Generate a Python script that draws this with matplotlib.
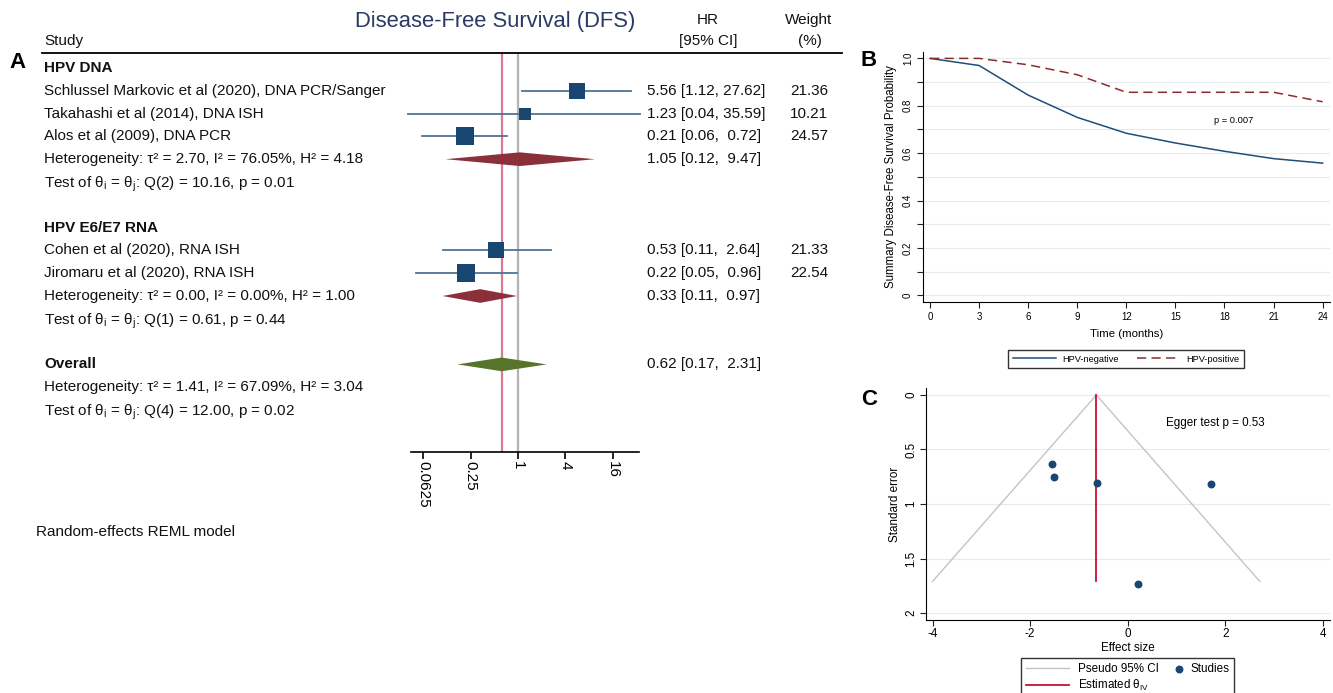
import numpy as np
import matplotlib.pyplot as plt
from matplotlib.lines import Line2D
from matplotlib.patches import Polygon
from matplotlib.transforms import blended_transform_factory
from matplotlib.legend_handler import HandlerPathCollection

plt.rcParams['font.family'] = ['Liberation Sans', 'DejaVu Sans']
plt.rcParams['mathtext.fontset'] = 'custom'
plt.rcParams['mathtext.rm'] = 'Liberation Sans'
plt.rcParams['mathtext.it'] = 'Liberation Sans:italic'
plt.rcParams['mathtext.bf'] = 'Liberation Sans:bold'
plt.rcParams['axes.unicode_minus'] = False

# ---- panel A data (forest plot) ----
group_names = ["HPV DNA", "HPV E6/E7 RNA"]
study_names = ["Schlussel Markovic et al (2020), DNA PCR/Sanger",
               "Takahashi et al (2014), DNA ISH",
               "Alos et al (2009), DNA PCR",
               "Cohen et al (2020), RNA ISH",
               "Jiromaru et al (2020), RNA ISH"]
study_group = [0, 0, 0, 1, 1]
study_hr = [5.56, 1.23, 0.21, 0.53, 0.22]
study_lo = [1.12, 0.04, 0.06, 0.11, 0.05]
study_hi = [27.62, 35.59, 0.72, 2.64, 0.96]
study_wt = [21.36, 10.21, 24.57, 21.33, 22.54]
group_hr = [1.05, 0.33]
group_lo = [0.12, 0.11]
group_hi = [9.47, 0.97]
group_het = ["Heterogeneity: τ² = 2.70, I² = 76.05%, H² = 4.18",
             "Heterogeneity: τ² = 0.00, I² = 0.00%, H² = 1.00"]
group_test = ["Q(2) = 10.16, p = 0.01", "Q(1) = 0.61, p = 0.44"]
overall_hr, overall_lo, overall_hi = 0.62, 0.17, 2.31
overall_het = "Heterogeneity: τ² = 1.41, I² = 67.09%, H² = 3.04"
overall_test = "Q(4) = 12.00, p = 0.02"
hr_ticks = [0.0625, 0.25, 1, 4, 16]
hr_ticklabels = ["0.0625", "0.25", "1", "4", "16"]

# ---- panel B data (survival curves) ----
months = [0, 3, 6, 9, 12, 15, 18, 21, 24]
surv_neg = [1.0, 0.970, 0.845, 0.751, 0.684, 0.643, 0.608, 0.577, 0.558]
surv_pos = [1.0, 1.0, 0.973, 0.931, 0.857, 0.857, 0.857, 0.857, 0.817]

# ---- panel C data (funnel plot) ----
effect_size = [1.72, 0.21, -1.56, -0.63, -1.51]
std_err = [0.82, 1.73, 0.63, 0.81, 0.75]
theta_iv = -0.64
funnel_se = 1.71
funnel_lo, funnel_hi = -4.0, 2.71

W, H = 1333, 693


def fx(px):
    return px / W


def fy(py):
    return 1 - py / H


class RightDot(HandlerPathCollection):
    # put the legend dot at the right end of the handle box
    def get_xdata(self, legend, xdescent, ydescent, width, height, fontsize):
        x = [-xdescent + width - 2]
        return x, x


fig = plt.figure(figsize=(13.33, 6.93), dpi=100)

navy = '#1a4672'
ci_col = '#4f7396'
txt_col = '#111111'
fs = 11

# ================= Panel A =================
row_h = 22.8
axA = fig.add_axes([fx(411), fy(452.3), fx(639.3) - fx(411), fy(53) - fy(452.3)])
axA.set_xscale('log', base=2)
axA.set_xlim(2 ** -4.52, 2 ** 5.12)
axA.set_ylim((452.3 - 68) / row_h, (53 - 68) / row_h)
tr = blended_transform_factory(fig.transFigure, axA.transData)

x_lab = fx(44)
x_val = fx(647.3)
x_wt = fx(828)


def label(s, r, bold=False):
    fig.text(x_lab, r, s, transform=tr, fontsize=fs, va='center', ha='left',
             color=txt_col, fontweight='bold' if bold else 'normal')


def value(hr, lo, hi, r):
    fig.text(x_val, r, "{:.2f} [{:.2f}, {:5.2f}]".format(hr, lo, hi),
             transform=tr, fontsize=fs, va='center', ha='left', color=txt_col)


def diamond(hr, lo, hi, r, col):
    axA.add_patch(Polygon([(lo, r), (hr, r - 0.3), (hi, r), (hr, r + 0.3)],
                          closed=True, facecolor=col, edgecolor='none', zorder=4))


axA.axvline(overall_hr, color='#dc7891', lw=1.6, zorder=1)
axA.axvline(1, color='#b3b3b3', lw=1.6, zorder=1)

row = 0
for g in range(len(group_names)):
    label(group_names[g], row, bold=True)
    row += 1
    for i in range(len(study_names)):
        if study_group[i] != g:
            continue
        label(study_names[i], row)
        axA.plot([study_lo[i], study_hi[i]], [row, row], color=ci_col, lw=1.3,
                 clip_on=False, zorder=2)
        axA.plot(study_hr[i], row, 's', color=navy, ms=2.6 * np.sqrt(study_wt[i]),
                 mew=0, zorder=3)
        value(study_hr[i], study_lo[i], study_hi[i], row)
        fig.text(x_wt, row, "{:.2f}".format(study_wt[i]), transform=tr, fontsize=fs,
                 va='center', ha='right', color=txt_col)
        row += 1
    label(group_het[g], row)
    diamond(group_hr[g], group_lo[g], group_hi[g], row, '#8b2f3a')
    value(group_hr[g], group_lo[g], group_hi[g], row)
    row += 1
    label(r"Test of $\mathrm{\theta_i}$ = $\mathrm{\theta_j}$: " + group_test[g], row + 0.1)
    row += 2

label("Overall", row, bold=True)
diamond(overall_hr, overall_lo, overall_hi, row, '#56742a')
value(overall_hr, overall_lo, overall_hi, row)
row += 1
label(overall_het, row)
row += 1
label(r"Test of $\mathrm{\theta_i}$ = $\mathrm{\theta_j}$: " + overall_test, row + 0.1)

for s in ['left', 'right', 'top']:
    axA.spines[s].set_visible(False)
axA.spines['bottom'].set_linewidth(1.2)
axA.set_yticks([])
axA.set_xticks(hr_ticks)
axA.set_xticklabels(hr_ticklabels, rotation=-90, fontsize=fs)
axA.minorticks_off()
axA.tick_params(axis='x', length=5, width=1.2, pad=1)

# headers
fig.text(x_lab, -1.18, "Study", transform=tr, fontsize=fs, va='center', color=txt_col)
fig.text(fx(708), -2.1, "HR", transform=tr, fontsize=fs, va='center', ha='center', color=txt_col)
fig.text(fx(708), -1.18, "[95% CI]", transform=tr, fontsize=fs, va='center', ha='center', color=txt_col)
fig.text(fx(809), -2.1, "Weight", transform=tr, fontsize=fs, va='center', ha='center', color=txt_col)
fig.text(fx(810), -1.18, "(%)", transform=tr, fontsize=fs, va='center', ha='center', color=txt_col)
fig.text(fx(495), fy(22), "Disease-Free Survival (DFS)", fontsize=15.8, color='#2b3a66',
         ha='center', va='center')
fig.add_artist(Line2D([fx(42), fx(842)], [fy(53), fy(53)], color='black', lw=1.3))
fig.text(fx(36), fy(532), "Random-effects REML model", fontsize=fs, va='center', color=txt_col)

# panel letters
fig.text(fx(17), fy(62), "A", fontsize=16, fontweight='bold', ha='center', va='center')
fig.text(fx(869), fy(61), "B", fontsize=16, fontweight='bold', ha='center', va='center')
fig.text(fx(869), fy(399), "C", fontsize=16, fontweight='bold', ha='center', va='center')

# ================= Panel B =================
axB = fig.add_axes([fx(922.7), fy(302), fx(1330) - fx(922.7), fy(52) - fy(302)])
for yv in np.arange(0, 1.01, 0.1):
    axB.axhline(yv, color='#e4ecef', lw=0.8, zorder=0)
axB.plot(months, surv_neg, color='#1f4e79', lw=1.1, label='HPV-negative')
axB.plot(months, surv_pos, color='#8b2c2c', lw=1.1, ls=(0, (6, 3.5)), label='HPV-positive')
axB.set_xlim(-0.45, 24.45)
axB.set_ylim(-0.028, 1.027)
axB.set_xticks(months)
axB.set_yticks([0, 0.2, 0.4, 0.6, 0.8, 1.0])
axB.set_yticklabels(["0", "0.2", "0.4", "0.6", "0.8", "1.0"], rotation=90, va='center')
axB.set_yticks([0.1, 0.3, 0.5, 0.7, 0.9], minor=True)
axB.tick_params(axis='both', which='both', labelsize=7, length=4, width=0.8, pad=3,
                color='#222222')
for s in ['right', 'top']:
    axB.spines[s].set_visible(False)
axB.set_xlabel("Time (months)", fontsize=8.2, labelpad=5)
axB.set_ylabel("Summary Disease-Free Survival Probability", fontsize=8.3, labelpad=4)
axB.text(18.56, 0.737, "p = 0.007", fontsize=6.7, ha='center', va='center')
legB = axB.legend(loc='upper center', bbox_to_anchor=(0.5, -0.192), ncol=2, fontsize=6.7,
                  frameon=True, fancybox=False, edgecolor='black', handlelength=4.6,
                  handletextpad=0.7, columnspacing=2.0, borderpad=0.5, borderaxespad=0)
legB.get_frame().set_linewidth(1.0)

# ================= Panel C =================
axC = fig.add_axes([fx(925.7), fy(620), fx(1330) - fx(925.7), fy(388) - fy(620)])
for yv in [0, 0.5, 1, 1.5, 2]:
    axC.axhline(yv, color='#e4ecef', lw=0.8, zorder=0)
axC.plot([funnel_lo, theta_iv, funnel_hi], [funnel_se, 0, funnel_se], color='#c4c4c4',
         lw=1, label='Pseudo 95% CI')
axC.plot([theta_iv, theta_iv], [0, funnel_se], color='#c8102e', lw=1.3,
         label=r'Estimated $\mathrm{\theta_{IV}}$')
pts = axC.scatter(effect_size, std_err, s=22, color=navy, zorder=3, label='Studies')
axC.set_xlim(-4.14, 4.15)
axC.set_ylim(2.064, -0.064)
axC.set_xticks([-4, -2, 0, 2, 4])
axC.set_yticks([0, 0.5, 1, 1.5, 2])
axC.set_yticklabels(["0", "0.5", "1", "1.5", "2"], rotation=90, va='center')
axC.tick_params(axis='both', labelsize=8.4, length=4, width=0.8, pad=2, color='#222222')
for s in ['right', 'top']:
    axC.spines[s].set_visible(False)
axC.set_xlabel("Effect size", fontsize=8.4, labelpad=1)
axC.set_ylabel("Standard error", fontsize=8.4, labelpad=3)
axC.text(0.78, 0.26, "Egger test p = 0.53", fontsize=8.4, ha='left', va='center')
h, l = axC.get_legend_handles_labels()
legC = axC.legend(h, l, loc='upper center', bbox_to_anchor=(0.5, -0.164), ncol=2,
                  fontsize=8.4, frameon=True, fancybox=False, edgecolor='black',
                  handlelength=3.7, handletextpad=0.8, columnspacing=-1.8, borderpad=0.4,
                  labelspacing=0.3, borderaxespad=0,
                  handler_map={pts: RightDot(numpoints=1)})
legC.get_frame().set_linewidth(1.0)

plt.savefig('out.png', dpi=100)
